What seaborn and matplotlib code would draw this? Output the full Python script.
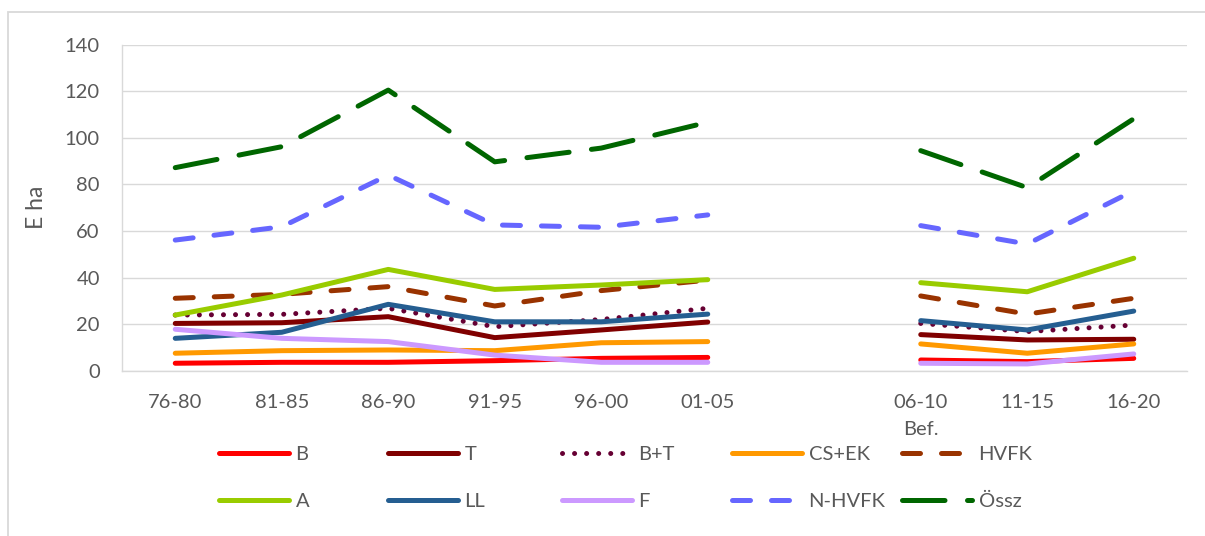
import pandas as pd
import matplotlib
matplotlib.use("Agg")
import matplotlib.pyplot as plt
import seaborn as sns
from matplotlib.patches import Rectangle

# Periods (index 6 is an empty gap category)
periods = ["76-80", "81-85", "86-90", "91-95", "96-00", "01-05", "", "06-10\nBef.", "11-15", "16-20"]

B = [3.2, 3.6, 3.6, 4.3, 5.3, 5.7, None, 4.6, 3.9, 5.3]
T = [20.3, 20.6, 23.2, 14.2, 17.5, 20.9, None, 15.5, 13.2, 13.5]
B_T = [23.9, 24.2, 26.8, 18.9, 22.0, 26.8, None, 20.3, 16.8, 19.6]
CS_EK = [7.5, 8.6, 8.9, 8.6, 12.0, 12.5, None, 11.5, 7.5, 11.5]
HVFK = [31.1, 32.8, 36.1, 27.8, 34.4, 38.9, None, 32.1, 24.3, 31.1]
A = [23.9, 32.5, 43.5, 34.9, 36.8, 39.1, None, 37.8, 33.9, 48.3]
LL = [13.9, 16.5, 28.5, 21.0, 21.0, 24.3, None, 21.5, 17.5, 25.6]
F = [17.8, 13.9, 12.5, 6.7, 3.6, 3.6, None, 3.2, 2.9, 7.2]
N_HVFK = [56.1, 61.8, 84.0, 62.6, 61.6, 66.9, None, 62.3, 54.4, 77.3]
OSSZ = [87.2, 96.2, 120.5, 89.7, 95.6, 106.7, None, 94.5, 78.6, 108.2]

names = ["B", "T", "B+T", "CS+EK", "HVFK", "A", "LL", "F", "N-HVFK", "Össz"]
series = [B, T, B_T, CS_EK, HVFK, A, LL, F, N_HVFK, OSSZ]
colors = ["#FF0000", "#800000", "#660033", "#FF9900", "#993300",
          "#99CC00", "#255E91", "#CC99FF", "#6666FF", "#006600"]
dashes = ["", "", (0.01, 2.4), "", (3.6, 4.2),
          "", "", "", (3.6, 4.2), (8.5, 4.5)]

# long format, split into two segments around the gap
rows = []
for name, vals in zip(names, series):
    for i, v in enumerate(vals):
        if v is None:
            continue
        rows.append({"x": i, "value": v, "series": name, "seg": 0 if i < 6 else 1})
df = pd.DataFrame(rows)

sns.set_style("white")
plt.rcParams["font.family"] = ["Lato", "DejaVu Sans"]
text_color = "#595959"
grid_color = "#D9D9D9"
lw = 3.6

fig = plt.figure(figsize=(12.05, 5.36), dpi=100)
ax = fig.add_axes([122 / 1205, 1 - 370.7 / 536, 1065 / 1205, 326 / 536])

sns.lineplot(data=df, x="x", y="value", hue="series", style="series",
             units="seg", estimator=None, sort=False,
             hue_order=names, style_order=names,
             palette=dict(zip(names, colors)), dashes=dict(zip(names, dashes)),
             linewidth=lw, ax=ax)

for line in ax.lines:
    line.set_dash_capstyle("round")
    line.set_solid_capstyle("round")
    line.set_solid_joinstyle("round")
    line.set_dash_joinstyle("round")

leg = ax.get_legend()
handles = list(leg.legend_handles)
labels = [t.get_text() for t in leg.texts]
leg.remove()
for h in handles:
    h.set_linewidth(lw)
    h.set_dash_capstyle("round")
    h.set_solid_capstyle("round")

ax.set_xlim(-0.5, 9.5)
ax.set_ylim(0, 140)
ax.set_yticks(range(0, 141, 20))
ax.set_xticks(range(len(periods)))
ax.set_xticklabels(periods)
ax.set_xticks([9.5], minor=True)
ax.yaxis.grid(True, color=grid_color, linewidth=1.0)
ax.set_axisbelow(True)
ax.set_xlabel("")
ax.set_ylabel("E ha", fontsize=16.5, color=text_color)
ax.yaxis.set_label_coords(-0.0704, 0.5)

for side in ["top", "right"]:
    ax.spines[side].set_visible(False)
for side in ["left", "bottom"]:
    ax.spines[side].set_color(grid_color)
    ax.spines[side].set_linewidth(1.0)

ax.tick_params(axis="both", which="both", colors=grid_color, labelcolor=text_color,
               labelsize=14.5, length=5, width=1.0)
ax.tick_params(axis="y", pad=11)
ax.tick_params(axis="x", pad=11.5)
for lab in ax.get_xticklabels():
    lab.set_linespacing(1.75)

# legend: five columns of two entries
col_x = [219, 388, 562, 732, 902]
for c in range(5):
    hs = [handles[c], handles[c + 5]]
    ls = [labels[c], labels[c + 5]]
    fig.legend(hs, ls, loc="center left", bbox_to_anchor=(col_x[c] / 1205, 1 - 478 / 536),
               frameon=False, fontsize=14.5, handlelength=3.5, handletextpad=0.3,
               labelspacing=1.45, borderpad=0, borderaxespad=0, labelcolor=text_color)

# chart border (right and bottom edges fall outside the image)
fig.patches.append(Rectangle((8 / 1205, -0.05), 1.2, 1.05 - 12 / 536, transform=fig.transFigure,
                             fill=False, edgecolor=grid_color, linewidth=1.3))

fig.savefig("out.png", dpi=100)
